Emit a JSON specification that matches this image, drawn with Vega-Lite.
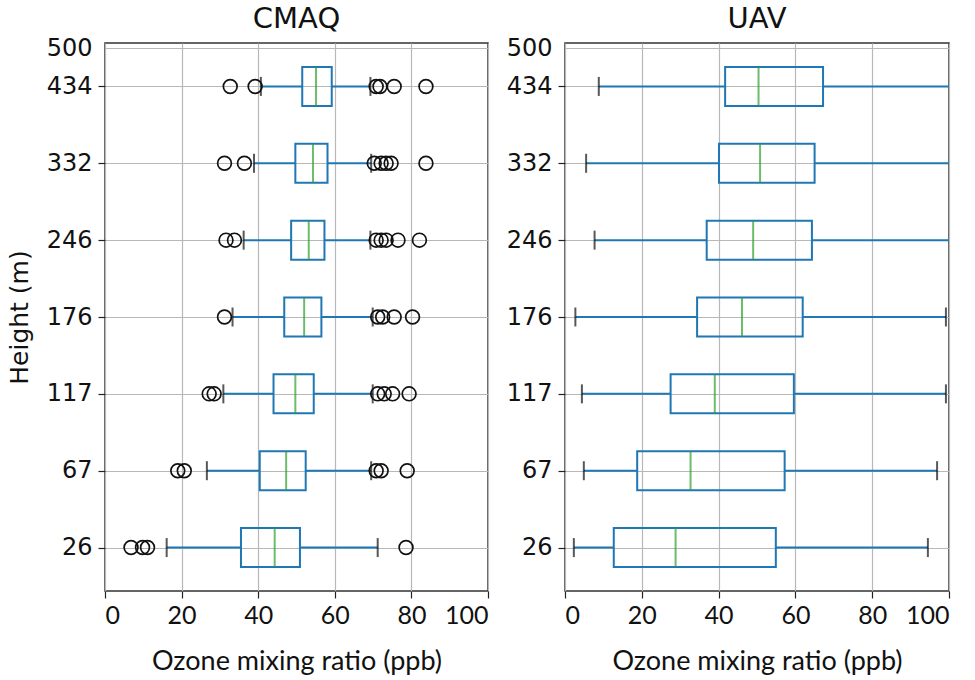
{
  "$schema": "https://vega.github.io/schema/vega-lite/v6.json",
  "background": "white",
  "padding": {"left": 6, "top": 4, "right": 20, "bottom": 5},
  "spacing": 15,
  "datasets": {
    "boxes": [
      {"panel": "CMAQ", "pos": 1, "lo": 16.1, "q1": 35.5, "med": 44.3, "q3": 50.9, "hi": 71.2},
      {"panel": "CMAQ", "pos": 2, "lo": 26.6, "q1": 40.4, "med": 47.3, "q3": 52.4, "hi": 69.5},
      {"panel": "CMAQ", "pos": 3, "lo": 30.9, "q1": 44.0, "med": 49.7, "q3": 54.5, "hi": 69.9},
      {"panel": "CMAQ", "pos": 4, "lo": 33.3, "q1": 46.8, "med": 52.0, "q3": 56.5, "hi": 69.9},
      {"panel": "CMAQ", "pos": 5, "lo": 36.2, "q1": 48.6, "med": 53.2, "q3": 57.3, "hi": 69.3},
      {"panel": "CMAQ", "pos": 6, "lo": 38.9, "q1": 49.7, "med": 54.3, "q3": 58.1, "hi": 69.5},
      {"panel": "CMAQ", "pos": 7, "lo": 40.7, "q1": 51.5, "med": 55.1, "q3": 59.2, "hi": 69.3},
      {"panel": "UAV", "pos": 1, "lo": 2.3, "q1": 12.7, "med": 28.8, "q3": 54.9, "hi": 94.5},
      {"panel": "UAV", "pos": 2, "lo": 4.9, "q1": 18.8, "med": 32.7, "q3": 57.2, "hi": 96.9},
      {"panel": "UAV", "pos": 3, "lo": 4.4, "q1": 27.5, "med": 39.0, "q3": 59.6, "hi": 99.2},
      {"panel": "UAV", "pos": 4, "lo": 2.7, "q1": 34.4, "med": 46.1, "q3": 61.9, "hi": 99.2},
      {"panel": "UAV", "pos": 5, "lo": 7.7, "q1": 36.9, "med": 49.0, "q3": 64.3, "hi": 103},
      {"panel": "UAV", "pos": 6, "lo": 5.5, "q1": 40.1, "med": 50.8, "q3": 65.0, "hi": 103},
      {"panel": "UAV", "pos": 7, "lo": 8.8, "q1": 41.7, "med": 50.4, "q3": 67.2, "hi": 103}
    ],
    "outliers": [
      {"panel": "CMAQ", "pos": 1, "v": 6.8}, {"panel": "CMAQ", "pos": 1, "v": 9.8}, {"panel": "CMAQ", "pos": 1, "v": 11.1}, {"panel": "CMAQ", "pos": 1, "v": 78.6},
      {"panel": "CMAQ", "pos": 2, "v": 19.0}, {"panel": "CMAQ", "pos": 2, "v": 20.7}, {"panel": "CMAQ", "pos": 2, "v": 70.8}, {"panel": "CMAQ", "pos": 2, "v": 72.1}, {"panel": "CMAQ", "pos": 2, "v": 78.9},
      {"panel": "CMAQ", "pos": 3, "v": 27.2}, {"panel": "CMAQ", "pos": 3, "v": 28.5}, {"panel": "CMAQ", "pos": 3, "v": 71.2}, {"panel": "CMAQ", "pos": 3, "v": 72.9}, {"panel": "CMAQ", "pos": 3, "v": 75.1}, {"panel": "CMAQ", "pos": 3, "v": 79.4},
      {"panel": "CMAQ", "pos": 4, "v": 31.2}, {"panel": "CMAQ", "pos": 4, "v": 71.2}, {"panel": "CMAQ", "pos": 4, "v": 72.5}, {"panel": "CMAQ", "pos": 4, "v": 75.5}, {"panel": "CMAQ", "pos": 4, "v": 80.3},
      {"panel": "CMAQ", "pos": 5, "v": 31.6}, {"panel": "CMAQ", "pos": 5, "v": 33.8}, {"panel": "CMAQ", "pos": 5, "v": 70.8}, {"panel": "CMAQ", "pos": 5, "v": 72.1}, {"panel": "CMAQ", "pos": 5, "v": 73.4}, {"panel": "CMAQ", "pos": 5, "v": 76.5}, {"panel": "CMAQ", "pos": 5, "v": 82.1},
      {"panel": "CMAQ", "pos": 6, "v": 31.2}, {"panel": "CMAQ", "pos": 6, "v": 36.4}, {"panel": "CMAQ", "pos": 6, "v": 70.3}, {"panel": "CMAQ", "pos": 6, "v": 72.1}, {"panel": "CMAQ", "pos": 6, "v": 73.4}, {"panel": "CMAQ", "pos": 6, "v": 74.7}, {"panel": "CMAQ", "pos": 6, "v": 83.8},
      {"panel": "CMAQ", "pos": 7, "v": 32.7}, {"panel": "CMAQ", "pos": 7, "v": 39.2}, {"panel": "CMAQ", "pos": 7, "v": 70.8}, {"panel": "CMAQ", "pos": 7, "v": 71.8}, {"panel": "CMAQ", "pos": 7, "v": 75.5}, {"panel": "CMAQ", "pos": 7, "v": 83.8}
    ]
  },
  "config": {
    "view": {"stroke": "#333333", "strokeWidth": 1.5},
    "axis": {
      "grid": true,
      "gridColor": "#b8b8b8",
      "gridWidth": 1.2,
      "domain": false,
      "tickColor": "#222222",
      "tickSize": 7,
      "tickWidth": 1.2,
      "labelColor": "#111111",
      "titleColor": "#111111",
      "titleFontWeight": "normal"
    },
    "title": {"font": "DejaVu Sans", "fontSize": 29, "fontWeight": "normal", "color": "#111111", "offset": 2}
  },
  "hconcat": [
    {
      "title": "CMAQ",
      "width": 383,
      "height": 548,
      "layer": [
        {
          "data": {"name": "boxes"},
          "transform": [{"filter": "datum.panel == 'CMAQ'"}],
          "layer": [
            {"mark": {"type": "rule", "color": "#1f77b4", "strokeWidth": 2, "clip": true},
             "encoding": {"x": {"field": "lo", "type": "quantitative"}, "x2": {"field": "q1"}, "y": {"field": "pos", "type": "quantitative"}}},
            {"mark": {"type": "rule", "color": "#1f77b4", "strokeWidth": 2, "clip": true},
             "encoding": {"x": {"field": "q3", "type": "quantitative"}, "x2": {"field": "hi"}, "y": {"field": "pos", "type": "quantitative"}}},
            {"mark": {"type": "tick", "orient": "vertical", "color": "#111111", "size": 19, "thickness": 2, "clip": true},
             "encoding": {"x": {"field": "lo", "type": "quantitative"}, "y": {"field": "pos", "type": "quantitative"}}},
            {"mark": {"type": "tick", "orient": "vertical", "color": "#111111", "size": 19, "thickness": 2, "clip": true},
             "encoding": {"x": {"field": "hi", "type": "quantitative"}, "y": {"field": "pos", "type": "quantitative"}}},
            {"mark": {"type": "bar", "orient": "horizontal", "filled": false, "stroke": "#1f77b4", "strokeWidth": 2, "size": 39},
             "encoding": {"x": {"field": "q1", "type": "quantitative"}, "x2": {"field": "q3"}, "y": {"field": "pos", "type": "quantitative"}}},
            {"mark": {"type": "tick", "orient": "vertical", "color": "#2ca02c", "size": 39, "thickness": 2},
             "encoding": {"x": {"field": "med", "type": "quantitative"}, "y": {"field": "pos", "type": "quantitative"}}}
          ]
        },
        {
          "data": {"name": "outliers"},
          "transform": [{"filter": "datum.panel == 'CMAQ'"}],
          "mark": {"type": "point", "shape": "circle", "filled": false, "stroke": "#111111", "strokeWidth": 1.7, "size": 190, "opacity": 1},
          "encoding": {"x": {"field": "v", "type": "quantitative"}, "y": {"field": "pos", "type": "quantitative"}}
        }
      ],
      "encoding": {
        "x": {"type": "quantitative", "scale": {"domain": [0, 100], "nice": false, "zero": false},
              "axis": {"values": [0, 20, 40, 60, 80, 100], "title": "Ozone mixing ratio (ppb)",
                       "labelFont": "Lato", "labelFontSize": 25, "labelPadding": 5,
                       "titleFont": "Lato", "titleFontSize": 27, "titlePadding": 20}},
        "y": {"type": "quantitative", "scale": {"domain": [0.5, 7.5], "nice": false, "zero": false},
              "axis": {"values": [1, 2, 3, 4, 5, 6, 7, 7.5], "title": "Height (m)",
                       "labelFont": "DejaVu Sans", "labelFontSize": 24, "labelPadding": 6,
                       "titleFont": "DejaVu Sans", "titleFontSize": 25, "titlePadding": 14,
                       "labelExpr": "datum.value == 7.5 ? '500' : ['', '26', '67', '117', '176', '246', '332', '434'][datum.value]",
                       "tickColor": {"condition": {"test": "datum.value == 7.5", "value": "transparent"}, "value": "#222222"}}}
      }
    },
    {
      "title": "UAV",
      "width": 384,
      "height": 548,
      "layer": [
        {
          "data": {"name": "boxes"},
          "transform": [{"filter": "datum.panel == 'UAV'"}],
          "layer": [
            {"mark": {"type": "rule", "color": "#1f77b4", "strokeWidth": 2, "clip": true},
             "encoding": {"x": {"field": "lo", "type": "quantitative"}, "x2": {"field": "q1"}, "y": {"field": "pos", "type": "quantitative"}}},
            {"mark": {"type": "rule", "color": "#1f77b4", "strokeWidth": 2, "clip": true},
             "encoding": {"x": {"field": "q3", "type": "quantitative"}, "x2": {"field": "hi"}, "y": {"field": "pos", "type": "quantitative"}}},
            {"mark": {"type": "tick", "orient": "vertical", "color": "#111111", "size": 19, "thickness": 2, "clip": true},
             "encoding": {"x": {"field": "lo", "type": "quantitative"}, "y": {"field": "pos", "type": "quantitative"}}},
            {"mark": {"type": "tick", "orient": "vertical", "color": "#111111", "size": 19, "thickness": 2, "clip": true},
             "encoding": {"x": {"field": "hi", "type": "quantitative"}, "y": {"field": "pos", "type": "quantitative"}}},
            {"mark": {"type": "bar", "orient": "horizontal", "filled": false, "stroke": "#1f77b4", "strokeWidth": 2, "size": 39},
             "encoding": {"x": {"field": "q1", "type": "quantitative"}, "x2": {"field": "q3"}, "y": {"field": "pos", "type": "quantitative"}}},
            {"mark": {"type": "tick", "orient": "vertical", "color": "#2ca02c", "size": 39, "thickness": 2},
             "encoding": {"x": {"field": "med", "type": "quantitative"}, "y": {"field": "pos", "type": "quantitative"}}}
          ]
        }
      ],
      "encoding": {
        "x": {"type": "quantitative", "scale": {"domain": [0, 100], "nice": false, "zero": false},
              "axis": {"values": [0, 20, 40, 60, 80, 100], "title": "Ozone mixing ratio (ppb)",
                       "labelFont": "Lato", "labelFontSize": 25, "labelPadding": 5,
                       "titleFont": "Lato", "titleFontSize": 27, "titlePadding": 20}},
        "y": {"type": "quantitative", "scale": {"domain": [0.5, 7.5], "nice": false, "zero": false},
              "axis": {"values": [1, 2, 3, 4, 5, 6, 7, 7.5], "title": null,
                       "labelFont": "DejaVu Sans", "labelFontSize": 24, "labelPadding": 6,
                       "labelExpr": "datum.value == 7.5 ? '500' : ['', '26', '67', '117', '176', '246', '332', '434'][datum.value]",
                       "tickColor": {"condition": {"test": "datum.value == 7.5", "value": "transparent"}, "value": "#222222"}}}
      }
    }
  ]
}
